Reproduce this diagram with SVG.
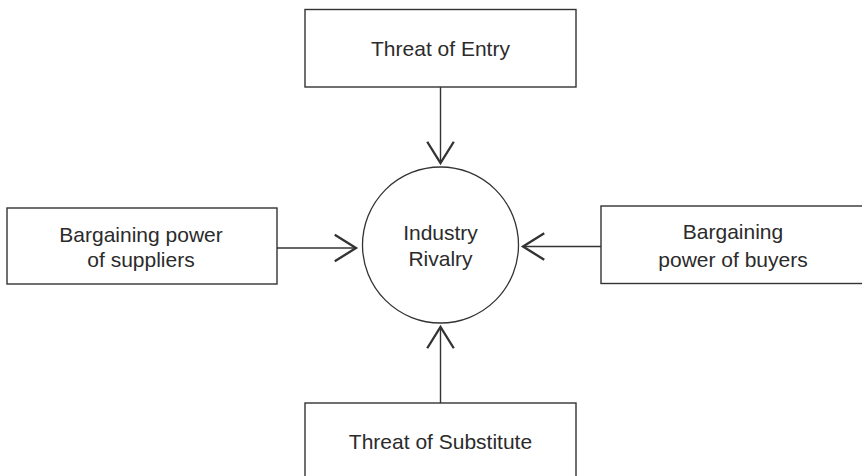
<svg xmlns="http://www.w3.org/2000/svg" width="862" height="476" viewBox="0 0 862 476">
  <style>
    .box { fill: #ffffff; stroke: #333333; stroke-width: 1.4; }
    .hub { fill: #ffffff; stroke: #333333; stroke-width: 1.3; }
    .label { font-family: "Liberation Sans", Arial, sans-serif; font-size: 21px; fill: #2b2b2b; text-anchor: middle; }
    .link { fill: none; stroke: #333333; stroke-width: 1.4; marker-end: url(#chevron); }
  </style>
  <defs>
    <marker id="chevron" markerUnits="userSpaceOnUse" markerWidth="30" markerHeight="34" viewBox="-24 -16 28 32" refX="0" refY="0" orient="auto">
      <path d="M-20,-12.5 L0,0 L-20,12.5" fill="none" stroke="#333333" stroke-width="2.2" stroke-linejoin="miter"/>
    </marker>
  </defs>
  <rect width="862" height="476" fill="#ffffff"/>

  <g id="connectors">
    <line class="link" x1="440.5" y1="87" x2="440.5" y2="163"/>
    <line class="link" x1="277" y1="248" x2="356" y2="248"/>
    <line class="link" x1="601" y1="246.5" x2="523" y2="246.5"/>
    <line class="link" x1="440.5" y1="403" x2="440.5" y2="327"/>
  </g>

  <g id="threat-of-entry">
    <rect class="box" x="305" y="9.5" width="271" height="77.5"/>
    <text class="label" x="440.5" y="56">Threat of Entry</text>
  </g>

  <g id="supplier-power">
    <rect class="box" x="7" y="208" width="270" height="76"/>
    <text class="label" x="141" y="242">Bargaining power</text>
    <text class="label" x="141" y="267">of suppliers</text>
  </g>

  <g id="industry-rivalry">
    <circle class="hub" cx="440.5" cy="245" r="78"/>
    <text class="label" x="440.5" y="240">Industry</text>
    <text class="label" x="440.5" y="266">Rivalry</text>
  </g>

  <g id="buyer-power">
    <rect class="box" x="601" y="206" width="262" height="77.5"/>
    <text class="label" x="733" y="239">Bargaining</text>
    <text class="label" x="733" y="266.5">power of buyers</text>
  </g>

  <g id="threat-of-substitute">
    <rect class="box" x="305" y="403" width="271" height="80"/>
    <text class="label" x="440.5" y="449">Threat of Substitute</text>
  </g>
</svg>
